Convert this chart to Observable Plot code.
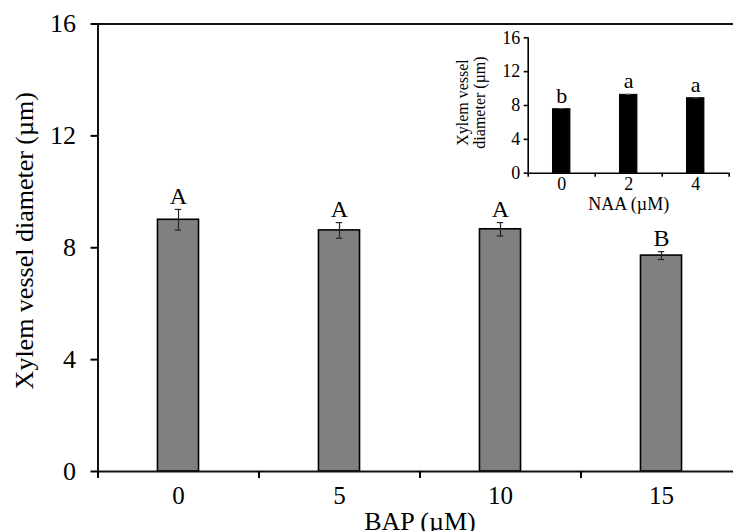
<!DOCTYPE html>
<html><head><meta charset="utf-8">
<script src="https://cdn.jsdelivr.net/npm/d3@7"></script>
<script src="https://cdn.jsdelivr.net/npm/@observablehq/plot@0.6"></script>
<style>
html,body{margin:0;padding:0;background:#fff;overflow:hidden;}
#wrap{position:relative;width:733px;height:531px;overflow:hidden;background:#fff;}
#main{position:absolute;left:0;top:0;}
#inset{position:absolute;left:440px;top:30px;}
</style></head>
<body><div id="wrap"><div id="main"></div><div id="inset"></div></div>
<script>
// Main chart: BAP
const bapLevels = ["0", "5", "10", "15"];
const bapMeans = [9.0, 8.62, 8.66, 7.72];
const bapErrors = [0.37, 0.28, 0.24, 0.14];
const bapLetters = ["A", "A", "A", "B"];
const mainYTicks = [0, 4, 8, 12, 16];
const mainYLabel = "Xylem vessel diameter (µm)";
const mainXLabel = "BAP (µM)";

// Inset chart: NAA
const naaLevels = ["0", "2", "4"];
const naaMeans = [7.56, 9.26, 8.86];
const naaErrors = [0.08, 0.06, 0.05];
const naaLetters = ["b", "a", "a"];
const insetYTicks = [0, 4, 8, 12, 16];
const insetYLabel = "Xylem vessel\ndiameter (µm)";
const insetXLabel = "NAA (µM)";

const font = "'Liberation Serif', 'Times New Roman', serif";

function rows(levels, means, errs, letters) {
  return levels.map((l, i) => ({i, level: l, mean: means[i], err: errs[i], letter: letters[i]}));
}

const bap = rows(bapLevels, bapMeans, bapErrors, bapLetters);
const naa = rows(naaLevels, naaMeans, naaErrors, naaLetters);

// main
{
  const n = bapLevels.length;
  const hw = 0.1275, cw = 0.02;
  const xDomain = [-0.5, n - 0.5];
  const bounds = d3.range(n + 1).map(k => k - 0.5);
  const chart = Plot.plot({
    width: 733, height: 531,
    marginLeft: 97.5, marginRight: -8.5, marginTop: 23.5, marginBottom: 60,
    style: {fontFamily: font, fontSize: "24px", color: "#000", background: "transparent", overflow: "hidden"},
    x: {type: "linear", domain: xDomain, axis: null},
    y: {domain: [0, 16], axis: null},
    marks: [
      Plot.rectY(bap, {x1: d => d.i - hw, x2: d => d.i + hw, y1: 0, y2: "mean", fill: "#808080", stroke: "#000", strokeWidth: 1.6}),
      Plot.ruleX(bap, {x: "i", y1: d => d.mean - d.err, y2: d => d.mean + d.err, stroke: "#222", strokeWidth: 1.2}),
      Plot.ruleY(bap, {y: d => d.mean + d.err, x1: d => d.i - cw, x2: d => d.i + cw, stroke: "#222", strokeWidth: 1.2}),
      Plot.ruleY(bap, {y: d => d.mean - d.err, x1: d => d.i - cw, x2: d => d.i + cw, stroke: "#222", strokeWidth: 1.2}),
      Plot.text(bap, {x: "i", y: d => d.mean + d.err, text: "letter", dy: -13, lineAnchor: "middle", fontSize: 24}),
      Plot.frame({stroke: "#111", strokeWidth: 2}),
      Plot.axisY({ticks: mainYTicks, tickSize: 7, tickFormat: () => "", label: null, strokeWidth: 2}),
      Plot.text(mainYTicks, {x: xDomain[0], y: d => d, text: d => String(d), textAnchor: "end", lineAnchor: "middle", dx: -22, fontSize: 26}),
      Plot.axisX({ticks: bounds, tickSize: 7, tickFormat: () => "", label: null, strokeWidth: 2}),
      Plot.axisX({ticks: d3.range(n), tickSize: 0, tickPadding: 15, fontSize: 25, label: null, tickFormat: i => bapLevels[i]}),
      Plot.text([mainYLabel], {frameAnchor: "left", rotate: -90, dx: -73, dy: -7, fontSize: 26, textAnchor: "middle", lineAnchor: "middle"}),
      Plot.text([mainXLabel], {frameAnchor: "bottom", dy: 50, fontSize: 26, textAnchor: "middle", lineAnchor: "middle"})
    ]
  });
  document.getElementById("main").appendChild(chart);
}

// inset
{
  const n = naaLevels.length;
  const hw = 0.13, cw = 0.04;
  const bounds = d3.range(n + 1).map(k => k - 0.5);
  const xDomain = [-0.5, n - 0.5];
  const chart = Plot.plot({
    width: 293, height: 195,
    marginLeft: 87.7, marginRight: 4.3, marginTop: 7.3, marginBottom: 52.3,
    style: {fontFamily: font, fontSize: "17px", color: "#000", background: "transparent", overflow: "visible"},
    x: {type: "linear", domain: xDomain, axis: null},
    y: {domain: [0, 16], axis: null},
    marks: [
      Plot.rectY(naa, {x1: d => d.i - hw, x2: d => d.i + hw, y1: 0, y2: "mean", fill: "#000", stroke: "#000", strokeWidth: 1}),
      Plot.ruleX(naa, {x: "i", y1: d => d.mean - d.err, y2: d => d.mean + d.err, stroke: "#555", strokeWidth: 1}),
      Plot.ruleY(naa, {y: d => d.mean + d.err, x1: d => d.i - cw, x2: d => d.i + cw, stroke: "#555", strokeWidth: 1}),
      Plot.text(naa, {x: "i", y: d => d.mean + d.err, text: "letter", dy: -13, lineAnchor: "middle", fontSize: 22}),
      Plot.ruleY([0], {stroke: "#000", strokeWidth: 1.6}),
      Plot.ruleX([xDomain[0]], {stroke: "#000", strokeWidth: 1.6}),
      Plot.axisY({ticks: insetYTicks, tickSize: 4, tickFormat: () => "", label: null, strokeWidth: 1.6}),
      Plot.text(insetYTicks, {x: xDomain[0], y: d => d, text: d => String(d), textAnchor: "end", lineAnchor: "middle", dx: -8, fontSize: 18}),
      Plot.axisX({ticks: bounds, tickSize: 4, tickFormat: () => "", label: null, strokeWidth: 1.6}),
      Plot.axisX({ticks: d3.range(n), tickSize: 0, tickPadding: 4, fontSize: 18, label: null, tickFormat: i => naaLevels[i]}),
      Plot.text([insetYLabel], {frameAnchor: "left", rotate: -90, dx: -57, dy: -3, fontSize: 16, textAnchor: "middle", lineAnchor: "middle", lineHeight: 1.05}),
      Plot.text([insetXLabel], {frameAnchor: "bottom", dy: 31, fontSize: 18, textAnchor: "middle", lineAnchor: "middle"})
    ]
  });
  document.getElementById("inset").appendChild(chart);
}
</script>
</body></html>
